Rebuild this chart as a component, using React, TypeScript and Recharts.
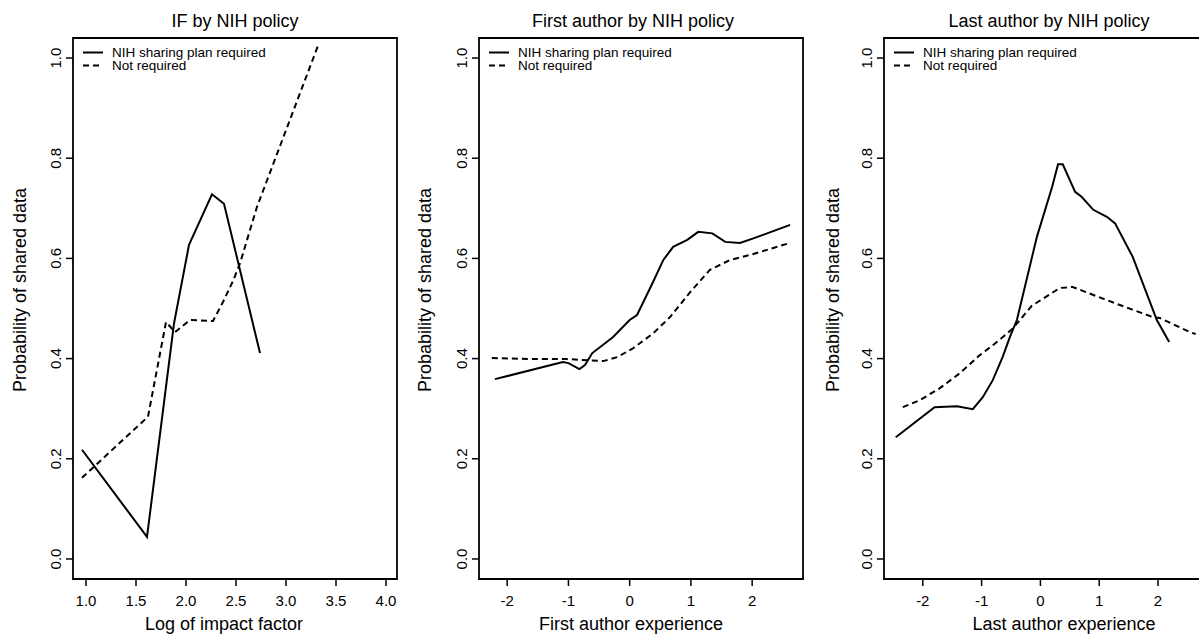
import { LineChart, Line, XAxis, YAxis, ReferenceArea, Legend } from 'recharts';

const FONT = '"Liberation Sans", Arial, Helvetica, sans-serif';

const SERIES_NAMES = ['NIH sharing plan required', 'Not required'];
const Y_TICKS = [0, 0.2, 0.4, 0.6, 0.8, 1.0];
const Y_DOMAIN = [-0.04, 1.04];

// IF by NIH policy
const IF_X_TICKS = [1, 1.5, 2, 2.5, 3, 3.5, 4];
const IF_REQ_X = [0.96, 1.61, 1.88, 2.03, 2.26, 2.38, 2.74];
const IF_REQ_Y = [0.218, 0.044, 0.47, 0.627, 0.728, 0.709, 0.411];
const IF_NOT_X = [0.96, 1.62, 1.8, 1.89, 2.04, 2.27, 2.37, 2.47, 2.54, 2.71, 3.0, 3.33];
const IF_NOT_Y = [0.162, 0.284, 0.473, 0.453, 0.477, 0.475, 0.513, 0.555, 0.59, 0.703, 0.856, 1.03];

// First author by NIH policy
const FA_X_TICKS = [-2, -1, 0, 1, 2];
const FA_REQ_X = [-2.2, -1.09, -1.0, -0.82, -0.73, -0.61, -0.27, 0.0, 0.12, 0.37, 0.55, 0.71, 0.94, 1.12, 1.35, 1.56, 1.8, 2.02, 2.62];
const FA_REQ_Y = [0.359, 0.393, 0.391, 0.379, 0.387, 0.411, 0.443, 0.477, 0.487, 0.55, 0.597, 0.623, 0.637, 0.653, 0.65, 0.633, 0.631, 0.64, 0.667];
const FA_NOT_X = [-2.25, -1.58, -1.02, -0.43, -0.2, 0.06, 0.38, 0.66, 0.99, 1.31, 1.64, 1.97, 2.62];
const FA_NOT_Y = [0.401, 0.399, 0.399, 0.395, 0.403, 0.421, 0.45, 0.483, 0.533, 0.577, 0.597, 0.607, 0.631];

// Last author by NIH policy
const LA_X_TICKS = [-2, -1, 0, 1, 2];
const LA_REQ_X = [-2.46, -1.8, -1.42, -1.15, -0.98, -0.81, -0.64, -0.52, -0.4, -0.06, 0.2, 0.3, 0.38, 0.59, 0.7, 0.9, 1.13, 1.27, 1.57, 1.98, 2.19];
const LA_REQ_Y = [0.243, 0.303, 0.305, 0.299, 0.323, 0.357, 0.404, 0.443, 0.477, 0.643, 0.743, 0.788, 0.788, 0.733, 0.723, 0.697, 0.683, 0.67, 0.603, 0.477, 0.433];
const LA_NOT_X = [-2.34, -2.05, -1.71, -1.37, -1.03, -0.74, -0.47, -0.15, 0.33, 0.55, 0.9, 1.35, 1.91, 2.03, 2.54, 2.64];
const LA_NOT_Y = [0.303, 0.317, 0.341, 0.371, 0.407, 0.433, 0.46, 0.505, 0.541, 0.543, 0.527, 0.507, 0.483, 0.481, 0.453, 0.449];

const zip = (xs: number[], ys: number[]) => xs.map((x, i) => ({ x, y: ys[i] }));

type Panel = {
  key: string;
  title: string;
  xLabel: string;
  plotLeft: number;
  domain: [number, number];
  ticks: number[];
  fmt: (v: number) => string;
  req: { x: number; y: number }[];
  not: { x: number; y: number }[];
  titleX: number;
  xLabelX: number;
  yLabelX: number;
};

const PANELS: Panel[] = [
  {
    key: 'if', title: 'IF by NIH policy', xLabel: 'Log of impact factor', plotLeft: 73,
    domain: [0.87, 4.11], ticks: IF_X_TICKS, fmt: (v) => v.toFixed(1),
    req: zip(IF_REQ_X, IF_REQ_Y), not: zip(IF_NOT_X, IF_NOT_Y),
    titleX: 235, xLabelX: 224, yLabelX: 20,
  },
  {
    key: 'fa', title: 'First author by NIH policy', xLabel: 'First author experience', plotLeft: 479,
    domain: [-2.46, 2.83], ticks: FA_X_TICKS, fmt: (v) => String(v),
    req: zip(FA_REQ_X, FA_REQ_Y), not: zip(FA_NOT_X, FA_NOT_Y),
    titleX: 633, xLabelX: 631, yLabelX: 425,
  },
  {
    key: 'la', title: 'Last author by NIH policy', xLabel: 'Last author experience', plotLeft: 884,
    domain: [-2.66, 2.85], ticks: LA_X_TICKS, fmt: (v) => String(v),
    req: zip(LA_REQ_X, LA_REQ_Y), not: zip(LA_NOT_X, LA_NOT_Y),
    titleX: 1049, xLabelX: 1064, yLabelX: 833,
  },
];

const Y_AXIS_W = 73;
const PLOT_W = 324;

function YTick(props: any) {
  const { x, y, payload } = props;
  return (
    <text x={x} y={y} transform={`rotate(-90 ${x} ${y})`} textAnchor="middle" dominantBaseline="central"
      fontFamily={FONT} fontSize={15} fill="#000">
      {Number(payload.value).toFixed(1)}
    </text>
  );
}

function LegendBox() {
  return (
    <div style={{ fontFamily: FONT, fontSize: 13.5, color: '#000' }}>
      {SERIES_NAMES.map((name, i) => (
        <div key={name} style={{ display: 'flex', alignItems: 'center', height: 13, whiteSpace: 'nowrap' }}>
          <svg width={20} height={13} style={{ display: 'block' }}>
            <line x1={0} x2={20} y1={6.5} y2={6.5} stroke="#000" strokeWidth={2} strokeDasharray={i ? '6 4' : undefined} />
          </svg>
          <span style={{ marginLeft: 9, lineHeight: '13px' }}>{name}</span>
        </div>
      ))}
    </div>
  );
}

const textStyle = (x: number, y: number, rotate = false): React.CSSProperties => ({
  position: 'absolute', left: x, top: y, transform: `translate(-50%, -50%)${rotate ? ' rotate(-90deg)' : ''}`,
  fontFamily: FONT, fontSize: 18, lineHeight: 1, whiteSpace: 'nowrap', color: '#000',
});

export default function App() {
  return (
    <div style={{ position: 'absolute', left: 0, top: 0, width: 1199, height: 635, overflow: 'hidden', background: '#fff' }}>
      {PANELS.map((p) => (
        <div key={p.key}>
          <div style={{ position: 'absolute', left: p.plotLeft - Y_AXIS_W, top: 0 }}>
            <LineChart width={Y_AXIS_W + PLOT_W + 6} height={635} margin={{ top: 38, right: 6, bottom: 0, left: 0 }}>
              <XAxis type="number" dataKey="x" domain={p.domain} ticks={p.ticks} allowDataOverflow
                tickFormatter={p.fmt} height={56} tickSize={7} tickMargin={9}
                axisLine={false} tickLine={{ stroke: '#000', strokeWidth: 1.5 }}
                tick={{ fill: '#000', fontSize: 15, fontFamily: FONT }} interval={0} />
              <YAxis type="number" domain={Y_DOMAIN} ticks={Y_TICKS} allowDataOverflow width={Y_AXIS_W}
                tickSize={7} tickMargin={10} axisLine={false} tickLine={{ stroke: '#000', strokeWidth: 1.5 }}
                tick={<YTick />} interval={0} />
              <ReferenceArea x1={p.domain[0]} x2={p.domain[1]} y1={Y_DOMAIN[0]} y2={Y_DOMAIN[1]}
                fill="none" fillOpacity={0} stroke="#000" strokeWidth={1.8} ifOverflow="visible" />
              <Line data={p.req} dataKey="y" name={SERIES_NAMES[0]} type="linear" stroke="#000" strokeWidth={2}
                dot={false} isAnimationActive={false} />
              <Line data={p.not} dataKey="y" name={SERIES_NAMES[1]} type="linear" stroke="#000" strokeWidth={2}
                strokeDasharray="6 4" dot={false} isAnimationActive={false} />
              <Legend layout="vertical" align="center" verticalAlign="middle" content={() => <LegendBox />}
                wrapperStyle={{ top: 45.5, left: Y_AXIS_W + 10, width: 260, height: 26 }} />
            </LineChart>
          </div>
          <div style={textStyle(p.titleX, 21)}>{p.title}</div>
          <div style={textStyle(p.xLabelX, 624)}>{p.xLabel}</div>
          <div style={textStyle(p.yLabelX, 290, true)}>Probability of shared data</div>
        </div>
      ))}
    </div>
  );
}
